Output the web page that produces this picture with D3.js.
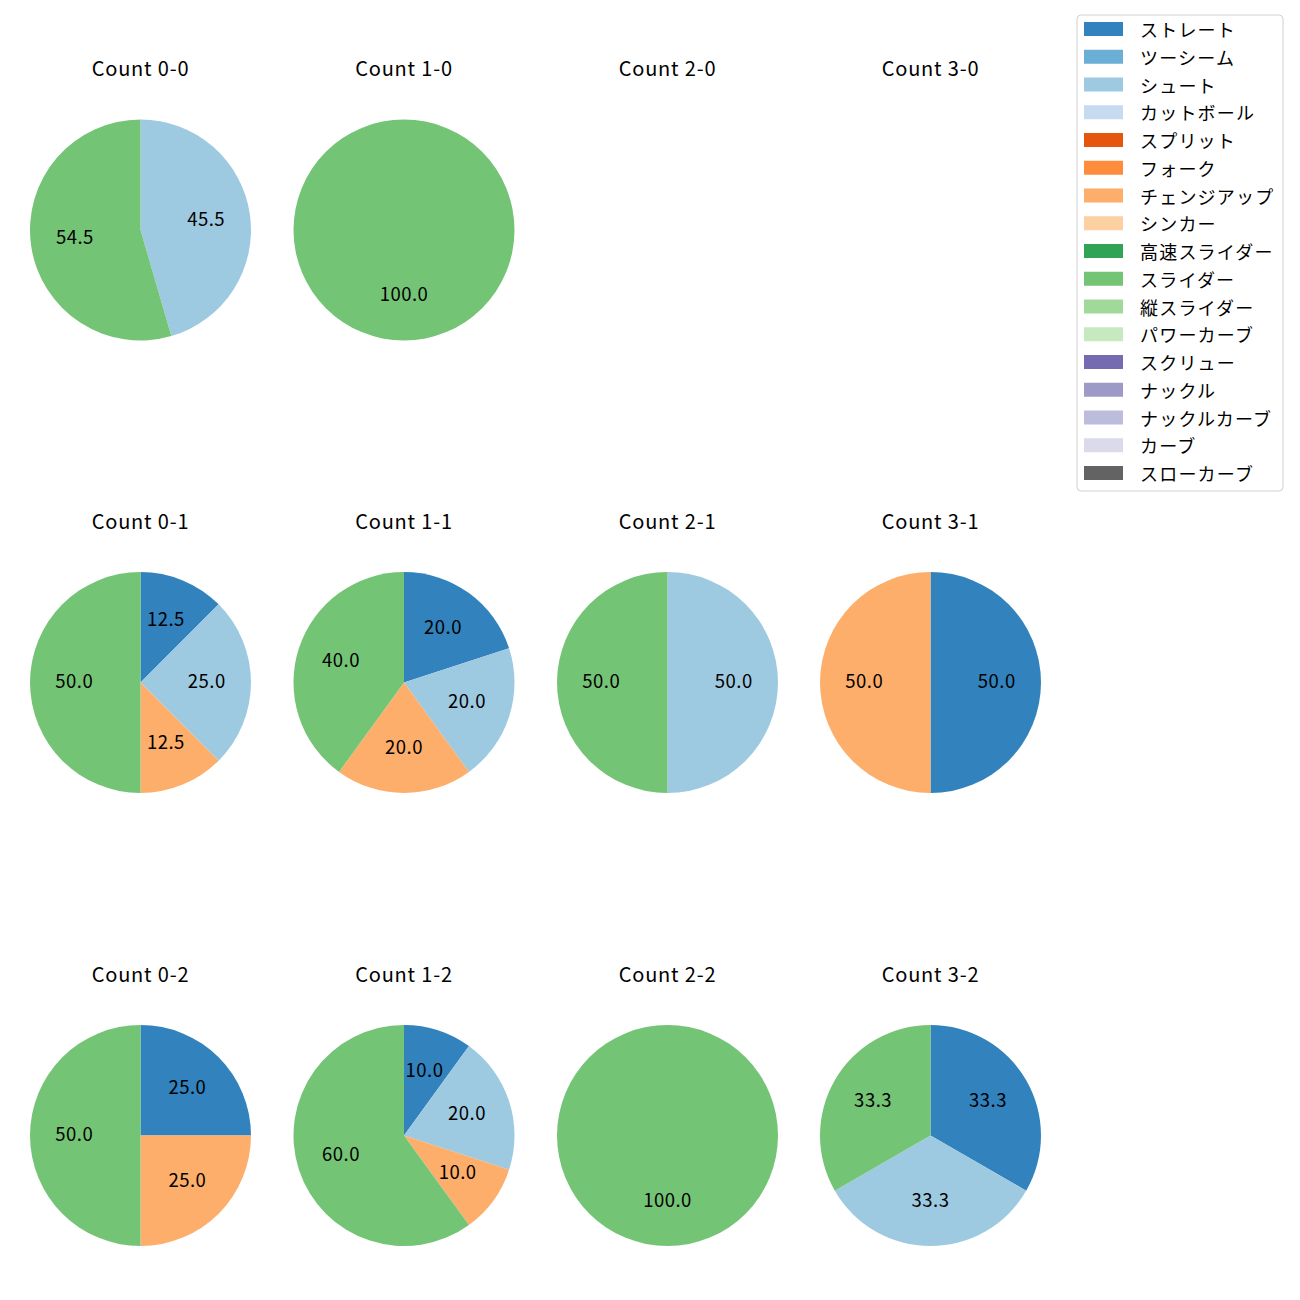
<!DOCTYPE html>
<html>
<head>
<meta charset="utf-8">
<script src="https://cdn.jsdelivr.net/npm/d3@7"></script>
<style>
  body { margin: 0; background: #fff; }
  svg { font-family: "Noto Sans CJK JP", "Noto Sans", sans-serif; }
</style>
</head>
<body>
<svg id="chart" width="1300" height="1300"></svg>
<script>
// pitch types and colours (legend order)
var pitchTypes = ["ストレート", "ツーシーム", "シュート", "カットボール", "スプリット", "フォーク",
  "チェンジアップ", "シンカー", "高速スライダー", "スライダー", "縦スライダー", "パワーカーブ",
  "スクリュー", "ナックル", "ナックルカーブ", "カーブ", "スローカーブ"];
var pitchColors = ["#3182bd", "#6baed6", "#9ecae1", "#c6dbef", "#e6550d", "#fd8d3c",
  "#fdae6b", "#fdd0a2", "#31a354", "#74c476", "#a1d99b", "#c7e9c0",
  "#756bb1", "#9e9ac8", "#bcbddc", "#dadaeb", "#636363"];

// count titles, row by row
var counts = ["0-0", "1-0", "2-0", "3-0", "0-1", "1-1", "2-1", "3-1", "0-2", "1-2", "2-2", "3-2"];

// share (%) per pitch type for each count, same order as pitchTypes
var values = {
  "0-0": [0, 0, 45.5, 0, 0, 0, 0, 0, 0, 54.5, 0, 0, 0, 0, 0, 0, 0],
  "1-0": [0, 0, 0, 0, 0, 0, 0, 0, 0, 100, 0, 0, 0, 0, 0, 0, 0],
  "2-0": [],
  "3-0": [],
  "0-1": [12.5, 0, 25, 0, 0, 0, 12.5, 0, 0, 50, 0, 0, 0, 0, 0, 0, 0],
  "1-1": [20, 0, 20, 0, 0, 0, 20, 0, 0, 40, 0, 0, 0, 0, 0, 0, 0],
  "2-1": [0, 0, 50, 0, 0, 0, 0, 0, 0, 50, 0, 0, 0, 0, 0, 0, 0],
  "3-1": [50, 0, 0, 0, 0, 0, 50, 0, 0, 0, 0, 0, 0, 0, 0, 0, 0],
  "0-2": [25, 0, 0, 0, 0, 0, 25, 0, 0, 50, 0, 0, 0, 0, 0, 0, 0],
  "1-2": [10, 0, 20, 0, 0, 0, 10, 0, 0, 60, 0, 0, 0, 0, 0, 0, 0],
  "2-2": [0, 0, 0, 0, 0, 0, 0, 0, 0, 100, 0, 0, 0, 0, 0, 0, 0],
  "3-2": [33.3, 0, 33.3, 0, 0, 0, 0, 0, 0, 33.3, 0, 0, 0, 0, 0, 0, 0]
};

var svg = d3.select("#chart");
var colX = [140.5, 404, 667.5, 930.5];
var rowY = [230, 682.5, 1135.5];
var r = 110.5;

var color = d3.scaleOrdinal().domain(pitchTypes).range(pitchColors);
var pie = d3.pie().sort(null).value(function(d) { return d.value; });
var arc = d3.arc().innerRadius(0).outerRadius(r);
var labelArc = d3.arc().innerRadius(r * 0.6).outerRadius(r * 0.6);

counts.forEach(function(c, i) {
  var cx = colX[i % 4], cy = rowY[Math.floor(i / 4)];
  var g = svg.append("g").attr("transform", "translate(" + cx + "," + cy + ")");
  g.append("text")
    .attr("x", 0).attr("y", -r - 52)
    .attr("text-anchor", "middle")
    .attr("dominant-baseline", "central")
    .attr("font-size", 20)
    .attr("letter-spacing", 0.8)
    .attr("fill", "#000")
    .text("Count " + c);
  var data = values[c].map(function(v, j) { return {name: pitchTypes[j], value: v}; })
    .filter(function(d) { return d.value > 0; });
  if (!data.length) return;
  var arcs = pie(data);
  g.selectAll("path").data(arcs).enter().append("path")
    .attr("d", arc)
    .attr("fill", function(d) { return color(d.data.name); });
  g.selectAll(".label").data(arcs).enter().append("text")
    .attr("class", "label")
    .attr("transform", function(d) {
      var p = labelArc.centroid(d);
      return "translate(" + p[0] + "," + (p[1] - 3) + ")";
    })
    .attr("text-anchor", "middle")
    .attr("dominant-baseline", "central")
    .attr("font-size", 18.5)
    .attr("letter-spacing", 0.5)
    .attr("fill", "#000")
    .text(function(d) { return d.data.value.toFixed(1); });
});

// legend
var lg = svg.append("g").attr("transform", "translate(1077,15)");
lg.append("rect")
  .attr("width", 206).attr("height", 476)
  .attr("rx", 4)
  .attr("fill", "#fff")
  .attr("stroke", "#d0d0d0");
var item = lg.selectAll(".item").data(pitchTypes).enter().append("g")
  .attr("class", "item")
  .attr("transform", function(d, i) { return "translate(0," + (14 + i * 27.75) + ")"; });
item.append("rect")
  .attr("x", 7).attr("y", -7)
  .attr("width", 39).attr("height", 14)
  .attr("fill", function(d) { return color(d); });
item.append("text")
  .attr("x", 63).attr("y", 0)
  .attr("dominant-baseline", "central")
  .attr("font-size", 18)
  .attr("letter-spacing", 1.2)
  .attr("fill", "#000")
  .text(function(d) { return d; });
</script>
</body>
</html>
